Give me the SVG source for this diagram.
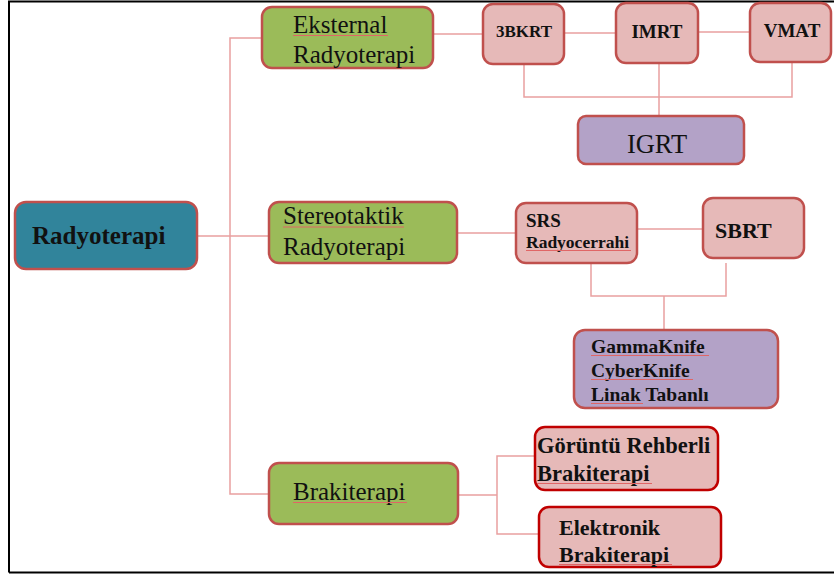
<svg xmlns="http://www.w3.org/2000/svg" width="834" height="576" viewBox="0 0 834 576">
<style>
.box{stroke:#C0504D;stroke-width:2.5}
.teal{fill:#31849B}
.green{fill:#9BBB59}
.pink{fill:#E6B9B8}
.purple{fill:#B3A2C7}
.dark{stroke:#C00000;stroke-width:2.5}
.t{font-family:"Liberation Serif","Times New Roman",serif;fill:#111}
.b{font-weight:bold}
.conn{stroke:#E9A0A0;stroke-width:1.5;fill:none}
.ul{stroke:#E06666;stroke-width:1;fill:none}
</style>
<rect x="0" y="0" width="834" height="576" fill="#fff"/>
<path d="M9,572.5 V1.5 H834 M9,572.5 H834" stroke="#000" stroke-width="2" fill="none"/>
<g id="connectors">
<path class="conn" d="M197,236 H269 M262,38 H230 V494 H269"/>
<path class="conn" d="M433,34 H483 M564,33 H616 M698,32 H750 M524,65 V97 H792 V62 M659,63 V116"/>
<path class="conn" d="M457,233 H516 M637,229 H703 M591,263 V296 H726 V263 M664,296 V330"/>
<path class="conn" d="M458,495 H497 M535,456 H497 V534 H539"/>
</g>
<g id="radyoterapi">
<rect class="box teal" x="15" y="202" width="182" height="67" rx="11"/>
<text class="t b" x="32" y="244" font-size="25">Radyoterapi</text>
</g>
<g id="eksternal">
<rect class="box green" x="262" y="7" width="171" height="61" rx="10"/>
<text class="t" x="293" y="33" font-size="25">Eksternal</text>
<text class="t" x="293" y="63" font-size="25">Radyoterapi</text>
<path class="ul" d="M293,35.5 H388"/>
</g>
<g id="stereotaktik">
<rect class="box green" x="269" y="202" width="188" height="61" rx="10"/>
<text class="t" x="283" y="224" font-size="25">Stereotaktik</text>
<text class="t" x="283" y="255" font-size="25">Radyoterapi</text>
<path class="ul" d="M283,227 H404"/>
</g>
<g id="brakiterapi">
<rect class="box green" x="269" y="463" width="189" height="61" rx="10"/>
<text class="t" x="293" y="500" font-size="25">Brakiterapi</text>
<path class="ul" d="M293,502.5 H407"/>
</g>
<g id="n3bkrt">
<rect class="box pink" x="483" y="4" width="81" height="60" rx="10"/>
<text class="t b" x="524" y="37" font-size="17" text-anchor="middle">3BKRT</text>
</g>
<g id="imrt">
<rect class="box pink" x="616" y="3" width="82" height="60" rx="10"/>
<text class="t b" x="657" y="38" font-size="19" text-anchor="middle">IMRT</text>
</g>
<g id="vmat">
<rect class="box pink" x="750" y="3" width="81" height="59" rx="10"/>
<text class="t b" x="792" y="37" font-size="19" text-anchor="middle">VMAT</text>
</g>
<g id="igrt">
<rect class="box purple" x="578" y="116" width="166" height="48" rx="8"/>
<text class="t" x="657" y="153" font-size="26.5" text-anchor="middle">IGRT</text>
</g>
<g id="srs">
<rect class="box pink" x="516" y="203" width="121" height="60" rx="10"/>
<text class="t b" x="526" y="227" font-size="19">SRS</text>
<text class="t b" x="526" y="248" font-size="17.5">Radyocerrahi</text>
<path class="ul" d="M526,250.5 H631"/>
</g>
<g id="sbrt">
<rect class="box pink" x="703" y="198" width="101" height="60" rx="10"/>
<text class="t b" x="715" y="238" font-size="22">SBRT</text>
</g>
<g id="gammaknife">
<rect class="box purple" x="574" y="330" width="204" height="78" rx="11"/>
<text class="t b" x="591" y="353" font-size="19.5">GammaKnife</text>
<text class="t b" x="591" y="377" font-size="19.5">CyberKnife</text>
<text class="t b" x="591" y="401" font-size="19.5">Linak Tabanlı</text>
<path class="ul" d="M591,355.5 H709 M591,379.5 H693 M591,403.5 H643"/>
</g>
<g id="goruntu">
<rect class="pink dark" x="535" y="427" width="183" height="63" rx="10"/>
<text class="t b" x="537" y="453" font-size="22.5">Görüntü Rehberli</text>
<text class="t b" x="537" y="481" font-size="22.5">Brakiterapi</text>
<path class="ul" d="M537,483.5 H652"/>
</g>
<g id="elektronik">
<rect class="pink dark" x="539" y="507" width="182" height="60" rx="10"/>
<text class="t b" x="559" y="535" font-size="22">Elektronik</text>
<text class="t b" x="559" y="562" font-size="22">Brakiterapi</text>
<path class="ul" d="M559,564.5 H672"/>
</g>
</svg>
